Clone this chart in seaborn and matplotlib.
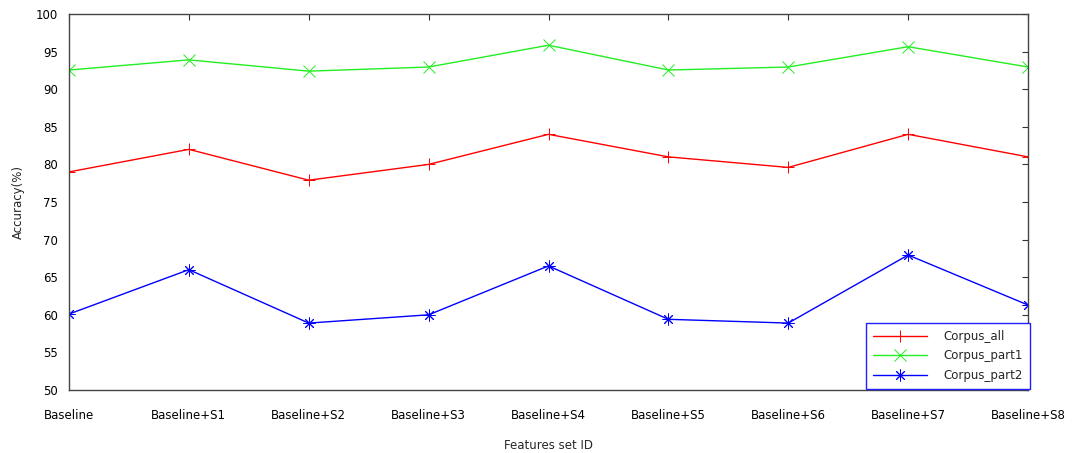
import matplotlib
matplotlib.use('Agg')
import matplotlib.pyplot as plt
import seaborn as sns

features = ['Baseline', 'Baseline+S1', 'Baseline+S2', 'Baseline+S3', 'Baseline+S4',
            'Baseline+S5', 'Baseline+S6', 'Baseline+S7', 'Baseline+S8']
corpus_all = [79.0, 82.0, 77.9, 80.0, 84.0, 81.0, 79.6, 84.0, 81.0]
corpus_part1 = [92.55, 93.9, 92.4, 92.95, 95.85, 92.55, 92.95, 95.65, 92.95]
corpus_part2 = [60.1, 66.0, 58.9, 60.0, 66.5, 59.4, 58.9, 67.95, 61.3]

sns.set_style('white')
plt.rcParams['font.family'] = ['DejaVu Sans']

fig = plt.figure(figsize=(10.76, 4.53), dpi=100)
ax = fig.add_axes([69 / 1076, 63 / 453, 959 / 1076, 376 / 453])

series = [
    ('Corpus_all', corpus_all, '#ff0000', '+'),
    ('Corpus_part1', corpus_part1, '#22ee22', 'x'),
    ('Corpus_part2', corpus_part2, '#0000ff', (8, 2, 0)),
]
for name, vals, col, mk in series:
    sns.lineplot(x=features, y=vals, ax=ax, color=col, marker=mk, markersize=8.5,
                 markeredgewidth=0.7, markeredgecolor=col, linewidth=1.0, label=name,
                 sort=False)

ax.set_xlim(0, 8)
ax.set_ylim(50, 100)
ax.set_yticks(range(50, 101, 5))
ax.tick_params(direction='in', length=4, width=0.8, top=True, right=True,
               labelsize=8.5, colors='#333333', labelcolor='black')
ax.tick_params(axis='x', pad=14)
ax.tick_params(axis='y', pad=8)
for s in ax.spines.values():
    s.set_color('#444444')
    s.set_linewidth(1.0)

ax.set_xlabel('Features set ID', fontsize=8.5, labelpad=12)
ax.set_ylabel('Accuracy(%)', fontsize=8.5, labelpad=8)

leg = ax.legend(loc='lower right', bbox_to_anchor=(1.002, 0.003), fontsize=8.5,
                frameon=True, fancybox=False, framealpha=1.0, handlelength=4.6,
                borderpad=0.6, labelspacing=0.55, handletextpad=1.4, borderaxespad=0)
leg.get_frame().set_edgecolor('#2020ff')
leg.get_frame().set_linewidth(1.0)

plt.savefig('out.png', dpi=100)
